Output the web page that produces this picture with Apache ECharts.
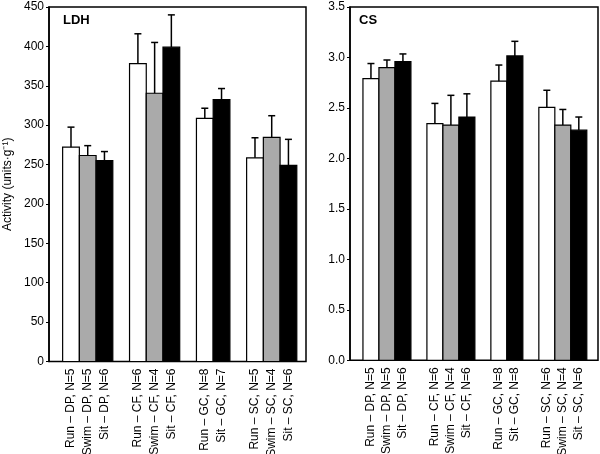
<!DOCTYPE html>
<html><head><meta charset="utf-8">
<script src="https://cdn.jsdelivr.net/npm/echarts@6/dist/echarts.min.js"></script>
<style>html,body{margin:0;padding:0;background:#fff}#c{width:600px;height:454px}</style>
</head><body><div id="c"></div>
<script>
// slot layout: 14 slots, blanks separate the muscle groups
const slotGroup = ['Run','Swim','Sit','','Run','Swim','Sit','','Run','Sit','','Run','Swim','Sit'];
const ldhLabels = ['Run – DP, N=5','Swim – DP, N=5','Sit – DP, N=6','','Run – CF, N=6','Swim – CF, N=4','Sit – CF, N=6','','Run – GC, N=8','Sit – GC, N=7','','Run – SC, N=5','Swim – SC, N=4','Sit – SC, N=6'];
const csLabels  = ['Run – DP, N=5','Swim – DP, N=5','Sit – DP, N=6','','Run – CF, N=6','Swim – CF, N=4','Sit – CF, N=6','','Run – GC, N=8','Sit – GC, N=8','','Run – SC, N=6','Swim – SC, N=4','Sit – SC, N=6'];
const ldhMean  = [272, 261.5, 255, null, 378, 340.5, 399, null, 308.5, 332.5, null, 258.5, 284.5, 249];
const ldhUpper = [297.5, 274, 266.5, null, 416, 405, 440, null, 321.5, 346.5, null, 284, 312, 282];
const csMean   = [2.79, 2.90, 2.96, null, 2.345, 2.33, 2.41, null, 2.765, 3.015, null, 2.505, 2.33, 2.28];
const csUpper  = [2.94, 2.975, 3.035, null, 2.545, 2.625, 2.64, null, 2.925, 3.16, null, 2.675, 2.485, 2.41];
const ldhTicks = [0, 450, 50];
const csTicks  = [0, 3.5, 0.5];

const groupColor = {Run:'#ffffff', Swim:'#aaaaaa', Sit:'#000000'};
const groupNames = ['Run','Swim','Sit'];

function buildData(mean, upper){
  const out = [];
  mean.forEach((m, i) => { if (m != null) out.push([i, m, upper[i], groupNames.indexOf(slotGroup[i])]); });
  return out;
}
function barItem(params, api){
  const i = api.value(0), v = api.value(1);
  const p0 = api.coord([i - 0.5, v]), p1 = api.coord([i + 0.5, 0]);
  return {type:'rect', shape:{x:p0[0], y:p0[1], width:p1[0]-p0[0], height:p1[1]-p0[1]},
    style:{fill: groupColor[groupNames[api.value(3)]], stroke:'#000', lineWidth:1.2}};
}
function errItem(params, api){
  const i = api.value(0), m = api.value(1), u = api.value(2);
  const a = api.coord([i, m]), b = api.coord([i, u]);
  return {type:'group', children:[
    {type:'line', shape:{x1:a[0], y1:a[1], x2:b[0], y2:b[1]}, style:{stroke:'#000', lineWidth:1.5}},
    {type:'line', shape:{x1:b[0]-3.5, y1:b[1], x2:b[0]+3.5, y2:b[1]}, style:{stroke:'#000', lineWidth:1.5}}
  ]};
}
const font = 'Liberation Sans, Arial, Helvetica, sans-serif';
const labelIdx = ldhLabels.map((l, i) => i).filter(i => ldhLabels[i] !== '');
function xAxis(gi, min, max, labels){
  return {type:'value', gridIndex:gi, min:min, max:max, splitLine:{show:false}, axisTick:{show:false},
    axisLine:{show:false, onZero:false},
    axisLabel:{customValues: labelIdx, rotate:90, margin:7, fontSize:12, color:'#000', fontFamily:font,
      formatter: v => (Number.isInteger(v) && labels[v]) ? labels[v] : ''}};
}
function yAxis(gi, t, fmt, name){
  return {type:'value', gridIndex:gi, min:t[0], max:t[1], interval:t[2], splitLine:{show:false},
    name: name, nameLocation:'middle', nameGap:35, nameTextStyle:{fontSize:12, color:'#000', fontFamily:font},
    axisLine:{show:true, onZero:false, lineStyle:{color:'#000', width:1.5}},
    axisTick:{show:true, length:3, lineStyle:{color:'#000', width:1}},
    axisLabel:{fontSize:12, color:'#000', margin:5, fontFamily:font, formatter: fmt}};
}
const chart = echarts.init(document.getElementById('c'), null, {renderer:'canvas'});
chart.setOption({
  animation:false,
  textStyle:{fontFamily:font},
  title:[
    {text:'LDH', left:58, top:9, textStyle:{fontSize:13, fontWeight:'bold', color:'#000', fontFamily:font}},
    {text:'CS', left:354, top:9, textStyle:{fontSize:13, fontWeight:'bold', color:'#000', fontFamily:font}}
  ],
  grid:[
    {left:49, right:294, top:7, bottom:92.5, show:true, borderColor:'#000', borderWidth:1.5, backgroundColor:'transparent', containLabel:false, outerBoundsMode:'none'},
    {left:350, right:2, top:7, bottom:93.7, show:true, borderColor:'#000', borderWidth:1.5, backgroundColor:'transparent', containLabel:false, outerBoundsMode:'none'}
  ],
  xAxis:[xAxis(0, -1.315, 14.05, ldhLabels), xAxis(1, -1.31, 14.2, csLabels)],
  yAxis:[yAxis(0, ldhTicks, v => String(v), 'Activity (units·g⁻¹)'), yAxis(1, csTicks, v => v.toFixed(1), '')],
  series:[
    {type:'custom', xAxisIndex:0, yAxisIndex:0, renderItem:barItem, data:buildData(ldhMean, ldhUpper), z:2},
    {type:'custom', xAxisIndex:0, yAxisIndex:0, renderItem:errItem, data:buildData(ldhMean, ldhUpper), z:3},
    {type:'custom', xAxisIndex:1, yAxisIndex:1, renderItem:barItem, data:buildData(csMean, csUpper), z:2},
    {type:'custom', xAxisIndex:1, yAxisIndex:1, renderItem:errItem, data:buildData(csMean, csUpper), z:3}
  ]
});
</script></body></html>
